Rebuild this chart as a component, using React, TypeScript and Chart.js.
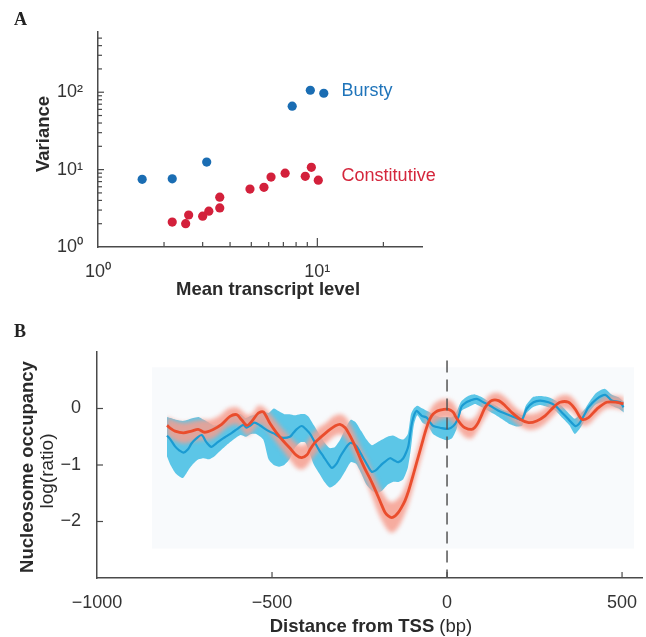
import React, { useEffect, useRef } from 'react';
import { Chart, registerables } from 'chart.js';

Chart.register(...registerables);

// ---------- Panel A data ----------
const BURSTY_MEAN = [1.59, 2.18, 3.13, 7.68, 9.29, 10.7];
const BURSTY_VAR = [7.5, 7.6, 12.5, 66, 106, 97];
const CONST_MEAN = [2.18, 2.51, 2.59, 3.0, 3.2, 3.59, 3.59, 4.93, 5.71, 6.15, 7.13, 8.81, 9.39, 10.1];
const CONST_VAR = [2.1, 2.0, 2.59, 2.5, 2.9, 3.2, 4.4, 5.6, 5.9, 8.0, 9.0, 8.2, 10.7, 7.3];
const A_X_TICKS = [1, 10];
const A_X_TICK_LABELS = ['10⁰', '10¹'];
const A_Y_TICKS = [1, 10, 100];
const A_Y_TICK_LABELS = ['10⁰', '10¹', '10²'];
const A_X_MINOR = [2, 3, 4, 5, 6, 7, 8, 9, 20];
const A_Y_MINOR = [2, 3, 4, 5, 6, 7, 8, 9, 20, 30, 40, 50, 60, 70, 80, 90, 200, 300, 400, 500];

// ---------- Panel B data ----------
const BLUE_X = [-800, -790, -777, -765, -753, -740, -730, -716, -701, -687, -673, -660, -645, -630, -615, -601, -582, -573, -562, -550, -534, -520, -510, -495, -480, -467, -449, -440, -430, -415, -401, -390, -377, -365, -353, -340, -329, -315, -305, -296, -285, -277, -268, -258, -248, -239, -226, -215, -205, -196, -185, -177, -163, -150, -139, -125, -115, -110, -104, -100, -93, -87, -80, -72, -58, -48, -39, -20, 4, 18, 28, 35, 42, 55, 66, 85, 104, 123, 147, 171, 194, 213, 220, 228, 247, 266, 290, 309, 328, 347, 366, 376, 385, 395, 404, 428, 452, 471, 495, 504];
const BLUE_MEAN = [-0.48, -0.55, -0.67, -0.74, -0.78, -0.72, -0.62, -0.53, -0.47, -0.6, -0.68, -0.62, -0.55, -0.49, -0.43, -0.37, -0.29, -0.34, -0.3, -0.25, -0.3, -0.36, -0.4, -0.44, -0.5, -0.52, -0.5, -0.44, -0.37, -0.31, -0.38, -0.46, -0.61, -0.74, -0.85, -0.97, -1.05, -0.97, -0.85, -0.76, -0.66, -0.61, -0.62, -0.67, -0.78, -0.88, -1.02, -1.12, -1.1, -1.05, -0.98, -0.94, -0.88, -0.92, -0.95, -0.88, -0.75, -0.65, -0.4, -0.25, -0.1, -0.04, -0.08, -0.13, -0.16, -0.25, -0.31, -0.34, -0.36, -0.31, -0.22, -0.1, 0.04, 0.11, 0.14, 0.17, 0.11, 0.05, -0.04, -0.1, -0.16, -0.2, -0.12, 0.0, 0.11, 0.14, 0.11, 0.05, -0.07, -0.19, -0.31, -0.28, -0.19, -0.08, 0.02, 0.17, 0.24, 0.14, 0.11, 0.02];

const BLUE_BAND_X = [-800, -790, -775, -755, -740, -725, -710, -695, -680, -665, -650, -630, -610, -590, -575, -560, -545, -525, -510, -495, -480, -465, -450, -435, -420, -405, -395, -380, -365, -350, -335, -320, -305, -290, -275, -260, -245, -230, -215, -200, -185, -170, -155, -140, -125, -112, -103, -95, -85, -70, -55, -40, -20, 0, 15, 28, 40, 60, 80, 100, 120, 140, 160, 180, 200, 215, 225, 245, 265, 290, 310, 330, 350, 365, 380, 395, 405, 425, 450, 470, 490, 505];
const BLUE_UPPER = [-0.15, -0.17, -0.2, -0.22, -0.2, -0.17, -0.15, -0.2, -0.25, -0.3, -0.28, -0.18, -0.12, -0.1, -0.17, -0.13, -0.1, -0.05, -0.08, 0.0, -0.05, -0.1, -0.1, -0.12, -0.1, -0.1, -0.15, -0.3, -0.45, -0.6, -0.7, -0.68, -0.55, -0.35, -0.2, -0.25, -0.4, -0.55, -0.65, -0.6, -0.55, -0.5, -0.48, -0.52, -0.55, -0.45, -0.1, 0.0, 0.05, 0.0, -0.05, -0.1, -0.15, -0.15, -0.15, -0.05, 0.12, 0.22, 0.25, 0.2, 0.12, 0.05, -0.02, -0.05, -0.08, -0.12, 0.05, 0.2, 0.22, 0.2, 0.14, 0.03, -0.1, -0.18, -0.1, 0.0, 0.1, 0.27, 0.35, 0.25, 0.2, 0.12];
const BLUE_LOWER = [-0.85, -1.0, -1.15, -1.23, -1.1, -0.98, -0.9, -0.88, -0.9, -0.85, -0.76, -0.65, -0.55, -0.47, -0.5, -0.45, -0.45, -0.55, -0.9, -1.0, -1.03, -1.0, -0.9, -0.7, -0.6, -0.6, -0.75, -1.0, -1.15, -1.3, -1.4, -1.35, -1.25, -1.1, -0.95, -0.98, -1.15, -1.35, -1.45, -1.5, -1.45, -1.35, -1.3, -1.3, -1.25, -1.05, -0.7, -0.3, -0.12, -0.25, -0.3, -0.45, -0.52, -0.56, -0.52, -0.35, -0.05, 0.02, 0.08, 0.02, -0.05, -0.12, -0.2, -0.28, -0.32, -0.3, -0.1, 0.02, 0.06, 0.02, -0.04, -0.17, -0.3, -0.45, -0.35, -0.2, -0.08, 0.07, 0.12, 0.05, 0.0, -0.07];

const RED_X = [-800, -790, -777, -753, -730, -711, -693, -668, -644, -620, -601, -587, -572, -558, -539, -525, -506, -487, -467, -449, -430, -415, -400, -391, -377, -363, -348, -334, -320, -306, -291, -280, -267, -255, -244, -232, -220, -208, -196, -186, -177, -168, -158, -148, -139, -130, -120, -110, -101, -91, -82, -72, -63, -54, -44, -32, -20, -1, 10, 18, 27, 40, 51, 70, 80, 89, 100, 109, 128, 147, 166, 185, 209, 233, 256, 280, 304, 323, 347, 366, 385, 404, 428, 456, 485, 504];
const RED_MEAN = [-0.3, -0.35, -0.4, -0.43, -0.4, -0.37, -0.42, -0.37, -0.28, -0.14, -0.11, -0.2, -0.3, -0.23, -0.08, -0.06, -0.26, -0.43, -0.58, -0.7, -0.83, -0.87, -0.82, -0.72, -0.6, -0.52, -0.44, -0.37, -0.31, -0.28, -0.34, -0.45, -0.61, -0.78, -0.94, -1.1, -1.24, -1.4, -1.57, -1.72, -1.84, -1.9, -1.93, -1.9, -1.84, -1.75, -1.63, -1.46, -1.27, -1.05, -0.85, -0.63, -0.43, -0.26, -0.13, -0.06, -0.03, -0.01, -0.03, -0.07, -0.17, -0.28, -0.34, -0.37, -0.33, -0.25, -0.1, 0.02, 0.14, 0.14, 0.05, -0.07, -0.19, -0.25, -0.22, -0.13, 0.02, 0.11, 0.11, -0.01, -0.19, -0.16, -0.01, 0.11, 0.11, 0.08];

const RED_BAND_X = [-800, -775, -750, -725, -700, -675, -650, -625, -600, -585, -570, -555, -540, -525, -505, -485, -465, -450, -430, -415, -400, -385, -365, -345, -325, -305, -290, -275, -260, -245, -230, -215, -200, -185, -170, -158, -145, -130, -115, -100, -85, -70, -55, -40, -20, 0, 15, 30, 50, 70, 85, 100, 115, 130, 150, 170, 190, 210, 235, 260, 280, 305, 325, 350, 370, 385, 405, 430, 455, 485, 505];
const RED_UPPER = [-0.15, -0.22, -0.25, -0.22, -0.2, -0.2, -0.13, 0.0, 0.02, -0.05, -0.12, -0.08, 0.05, 0.03, -0.1, -0.25, -0.4, -0.5, -0.62, -0.66, -0.6, -0.45, -0.33, -0.25, -0.14, -0.1, -0.15, -0.3, -0.5, -0.72, -0.9, -1.1, -1.3, -1.48, -1.62, -1.66, -1.62, -1.52, -1.32, -1.05, -0.72, -0.42, -0.12, 0.06, 0.15, 0.16, 0.12, -0.02, -0.18, -0.2, -0.12, 0.06, 0.2, 0.27, 0.27, 0.18, 0.05, -0.05, -0.1, -0.07, 0.0, 0.15, 0.23, 0.23, 0.1, -0.05, -0.03, 0.12, 0.22, 0.22, 0.2];
const RED_LOWER = [-0.48, -0.58, -0.62, -0.58, -0.56, -0.55, -0.45, -0.32, -0.28, -0.38, -0.48, -0.4, -0.28, -0.3, -0.45, -0.62, -0.78, -0.9, -1.05, -1.08, -1.02, -0.88, -0.72, -0.62, -0.5, -0.45, -0.52, -0.68, -0.88, -1.12, -1.32, -1.55, -1.8, -2.0, -2.15, -2.2, -2.15, -2.0, -1.78, -1.48, -1.12, -0.8, -0.45, -0.28, -0.2, -0.17, -0.24, -0.35, -0.5, -0.53, -0.42, -0.25, -0.1, 0.0, 0.0, -0.1, -0.22, -0.32, -0.38, -0.35, -0.27, -0.12, 0.0, -0.02, -0.14, -0.3, -0.28, -0.12, 0.0, 0.0, -0.04];

const B_X_TICKS = [-1000, -500, 0, 500];
const B_Y_TICKS = [-2, -1, 0];
const TSS_X = [0, 0];
const TSS_Y = [0.85, -3];

const FONT = '"Liberation Sans", Arial, Helvetica, sans-serif';
const SERIF = '"Liberation Serif", "Times New Roman", serif';
const AXIS_COLOR = '#4a4a4a';
const TEXT_COLOR = '#2a2a2a';

const pts = (xs: number[], ys: number[]) => xs.map((x, i) => ({ x, y: ys[i] }));
const minus = (v: number) => (v < 0 ? '−' + Math.abs(v) : String(v));

const innerTicksPlugin = {
  id: 'innerTicks',
  afterDraw(chart: any, _args: any, opts: any) {
    const { ctx, chartArea } = chart;
    ctx.save();
    ctx.strokeStyle = opts.color;
    ctx.lineWidth = opts.width;
    for (const spec of opts.specs || []) {
      const scale = chart.scales[spec.axis];
      const draw = (v: number, len: number) => {
        ctx.beginPath();
        if (scale.isHorizontal()) {
          const px = scale.getPixelForValue(v);
          ctx.moveTo(px, chartArea.bottom);
          ctx.lineTo(px, chartArea.bottom - len);
        } else {
          const py = scale.getPixelForValue(v);
          ctx.moveTo(chartArea.left, py);
          ctx.lineTo(chartArea.left + len, py);
        }
        ctx.stroke();
      };
      (spec.major || []).forEach((v: number) => draw(v, spec.majorLen));
      (spec.minor || []).forEach((v: number) => draw(v, spec.minorLen));
    }
    ctx.restore();
  },
};

const textPlugin = {
  id: 'texts',
  afterDraw(chart: any, _args: any, opts: any) {
    const ctx = chart.ctx;
    for (const it of opts.items || []) {
      let x = it.x;
      let y = it.y;
      if (it.dataX !== undefined) {
        x = chart.scales.x.getPixelForValue(it.dataX);
        y = chart.scales.y.getPixelForValue(it.dataY);
      }
      ctx.save();
      ctx.translate(x, y);
      if (it.rotate) ctx.rotate(it.rotate);
      ctx.textBaseline = it.baseline || 'middle';
      ctx.textAlign = 'left';
      const widths = it.parts.map((p: any) => {
        ctx.font = p.font;
        return ctx.measureText(p.text).width;
      });
      const total = widths.reduce((a: number, b: number) => a + b, 0);
      let cx = it.align === 'left' ? 0 : -total / 2;
      it.parts.forEach((p: any, i: number) => {
        ctx.font = p.font;
        ctx.fillStyle = p.color || it.color || TEXT_COLOR;
        ctx.fillText(p.text, cx, 0);
        cx += widths[i];
      });
      ctx.restore();
    }
  },
};

const bgRectPlugin = {
  id: 'bgRect',
  beforeDatasetsDraw(chart: any, _args: any, opts: any) {
    if (!opts.color) return;
    const { ctx } = chart;
    const xs = chart.scales.x;
    const ys = chart.scales.y;
    const x0 = xs.getPixelForValue(opts.x0);
    const x1 = xs.getPixelForValue(opts.x1);
    const y0 = ys.getPixelForValue(opts.y1);
    const y1 = ys.getPixelForValue(opts.y0);
    ctx.save();
    ctx.fillStyle = opts.color;
    ctx.fillRect(x0, y0, x1 - x0, y1 - y0);
    ctx.restore();
  },
};

// sets a blur filter right before the filler draws the band of `bandIndex`
const bandBlurPlugin = {
  id: 'bandBlur',
  afterDatasetDraw(chart: any, args: any, opts: any) {
    if (opts.beforeIndex === undefined) return;
    if (args.index === opts.beforeIndex) chart.ctx.filter = `blur(${opts.px}px)`;
    else if (args.index === opts.bandIndex) chart.ctx.filter = 'none';
  },
};

function PanelA() {
  const ref = useRef<HTMLCanvasElement | null>(null);
  useEffect(() => {
    if (!ref.current) return;
    const chart = new Chart(ref.current, {
      type: 'scatter',
      data: {
        datasets: [
          {
            label: 'Bursty',
            data: pts(BURSTY_MEAN, BURSTY_VAR),
            backgroundColor: '#1a6db3',
            borderWidth: 0,
            pointRadius: 4.6,
          },
          {
            label: 'Constitutive',
            data: pts(CONST_MEAN, CONST_VAR),
            backgroundColor: '#d3203b',
            borderWidth: 0,
            pointRadius: 4.6,
          },
        ],
      },
      options: {
        animation: false,
        responsive: false,
        layout: { padding: { top: 32, right: 38, left: 0, bottom: 0 } },
        scales: {
          x: {
            type: 'logarithmic',
            min: 1,
            max: 30,
            grid: { display: false },
            border: { display: true, color: AXIS_COLOR, width: 1.5 },
            afterBuildTicks: (s: any) => {
              s.ticks = A_X_TICKS.map((v) => ({ value: v }));
            },
            afterFit: (s: any) => {
              s.height = 58;
            },
            ticks: {
              autoSkip: false,
              maxRotation: 0,
              padding: 6,
              color: '#333',
              font: { family: FONT, size: 18 },
              callback: (v: any) => {
                const i = A_X_TICKS.indexOf(Number(v));
                return i >= 0 ? A_X_TICK_LABELS[i] : '';
              },
            },
          },
          y: {
            type: 'logarithmic',
            min: 1,
            max: 600,
            grid: { display: false },
            border: { display: true, color: AXIS_COLOR, width: 1.5 },
            afterBuildTicks: (s: any) => {
              s.ticks = A_Y_TICKS.map((v) => ({ value: v }));
            },
            afterFit: (s: any) => {
              s.width = 98;
            },
            ticks: {
              autoSkip: false,
              padding: 7,
              color: '#333',
              font: { family: FONT, size: 18 },
              callback: (v: any) => {
                const i = A_Y_TICKS.indexOf(Number(v));
                return i >= 0 ? A_Y_TICK_LABELS[i] : '';
              },
            },
          },
        },
        plugins: {
          legend: { display: false },
          tooltip: { enabled: false },
          innerTicks: {
            color: AXIS_COLOR,
            width: 1.2,
            specs: [
              { axis: 'x', major: [10], minor: A_X_MINOR, majorLen: 9, minorLen: 5 },
              { axis: 'y', major: [10, 100], minor: A_Y_MINOR, majorLen: 6, minorLen: 4 },
            ],
          },
          texts: {
            items: [
              { parts: [{ text: 'A', font: `bold 18px ${SERIF}` }], x: 14, y: 25, align: 'left', baseline: 'alphabetic', color: '#222' },
              { parts: [{ text: 'Variance', font: `bold 18.5px ${FONT}` }], x: 44, y: 134, rotate: -Math.PI / 2 },
              { parts: [{ text: 'Mean transcript level', font: `bold 18.5px ${FONT}` }], x: 268, y: 290 },
              { parts: [{ text: 'Bursty', font: `18px ${FONT}`, color: '#1f74ba' }], dataX: 12.9, dataY: 103, align: 'left' },
              { parts: [{ text: 'Constitutive', font: `18px ${FONT}`, color: '#d4263c' }], dataX: 12.9, dataY: 8.2, align: 'left' },
            ],
          },
        } as any,
      },
      plugins: [innerTicksPlugin, textPlugin],
    } as any);
    return () => chart.destroy();
  }, []);
  return <canvas ref={ref} width={460} height={305} style={{ position: 'absolute', left: 0, top: 0 }} />;
}

function PanelB() {
  const ref = useRef<HTMLCanvasElement | null>(null);
  useEffect(() => {
    if (!ref.current) return;
    const line = (extra: any) => ({ pointRadius: 0, tension: 0.3, ...extra });
    const chart = new Chart(ref.current, {
      type: 'line',
      data: {
        datasets: [
          line({ label: 'TSS', data: pts(TSS_X, TSS_Y), borderColor: '#555', borderWidth: 1.5, borderDash: [12, 7], tension: 0, order: 0 }),
          line({ label: 'Constitutive', data: pts(RED_X, RED_MEAN), borderColor: '#ea4d2d', borderWidth: 2.8, order: 1 }),
          line({ label: 'Bursty', data: pts(BLUE_X, BLUE_MEAN), borderColor: '#1b9bd2', borderWidth: 2.2, order: 2 }),
          line({ label: 'Constitutive upper', data: pts(RED_BAND_X, RED_UPPER), borderWidth: 0, borderColor: 'rgba(0,0,0,0)', fill: 4, backgroundColor: 'rgba(246,158,142,0.85)', order: 3 }),
          line({ label: 'Constitutive lower', data: pts(RED_BAND_X, RED_LOWER), borderWidth: 0, borderColor: 'rgba(0,0,0,0)', order: 4 }),
          line({ label: 'Bursty upper', data: pts(BLUE_BAND_X, BLUE_UPPER), borderWidth: 0, borderColor: 'rgba(0,0,0,0)', fill: 6, backgroundColor: 'rgba(70,190,228,0.88)', tension: 0.2, order: 5 }),
          line({ label: 'Bursty lower', data: pts(BLUE_BAND_X, BLUE_LOWER), borderWidth: 0, borderColor: 'rgba(0,0,0,0)', tension: 0.2, order: 6 }),
        ],
      },
      options: {
        animation: false,
        responsive: false,
        layout: { padding: { top: 42, right: 4, left: 0, bottom: 0 } },
        scales: {
          x: {
            type: 'linear',
            min: -1000,
            max: 557,
            grid: { display: false },
            border: { display: true, color: AXIS_COLOR, width: 1.5 },
            afterBuildTicks: (s: any) => {
              s.ticks = B_X_TICKS.map((v) => ({ value: v }));
            },
            afterFit: (s: any) => {
              s.height = 59;
            },
            ticks: {
              autoSkip: false,
              maxRotation: 0,
              padding: 6,
              color: '#333',
              font: { family: FONT, size: 18 },
              callback: (v: any) => minus(Number(v)),
            },
          },
          y: {
            type: 'linear',
            min: -3,
            max: 1,
            grid: { display: false },
            border: { display: true, color: AXIS_COLOR, width: 1.5 },
            afterBuildTicks: (s: any) => {
              s.ticks = B_Y_TICKS.map((v) => ({ value: v }));
            },
            afterFit: (s: any) => {
              s.width = 97;
            },
            ticks: {
              autoSkip: false,
              padding: 8,
              color: '#333',
              font: { family: FONT, size: 18 },
              callback: (v: any) => minus(Number(v)),
            },
          },
        },
        plugins: {
          legend: { display: false },
          tooltip: { enabled: false },
          bgRect: { color: '#f8fafc', x0: -843, x1: 534, y0: -2.48, y1: 0.73 },
          bandBlur: { beforeIndex: 4, bandIndex: 3, px: 2 },
          innerTicks: {
            color: AXIS_COLOR,
            width: 1.2,
            specs: [
              { axis: 'x', major: [-500, 0, 500], minor: [], majorLen: 6, minorLen: 0 },
              { axis: 'y', major: B_Y_TICKS, minor: [], majorLen: 6, minorLen: 0 },
            ],
          },
          texts: {
            items: [
              { parts: [{ text: 'B', font: `bold 18px ${SERIF}` }], x: 14, y: 27, align: 'left', baseline: 'alphabetic', color: '#222' },
              { parts: [{ text: 'Nucleosome occupancy', font: `bold 18.5px ${FONT}` }], x: 28, y: 157, rotate: -Math.PI / 2 },
              { parts: [{ text: 'log(ratio)', font: `19px ${FONT}` }], x: 48, y: 161, rotate: -Math.PI / 2 },
              {
                parts: [
                  { text: 'Distance from TSS', font: `bold 18.5px ${FONT}` },
                  { text: ' (bp)', font: `18.5px ${FONT}` },
                ],
                x: 371,
                y: 317,
              },
            ],
          },
        } as any,
      },
      plugins: [bgRectPlugin, bandBlurPlugin, innerTicksPlugin, textPlugin],
    } as any);
    return () => chart.destroy();
  }, []);
  return <canvas ref={ref} width={646} height={327} style={{ position: 'absolute', left: 0, top: 310 }} />;
}

export default function App() {
  return (
    <div style={{ position: 'absolute', left: 0, top: 0, width: 646, height: 637, background: '#fff', overflow: 'hidden' }}>
      <PanelA />
      <PanelB />
    </div>
  );
}
